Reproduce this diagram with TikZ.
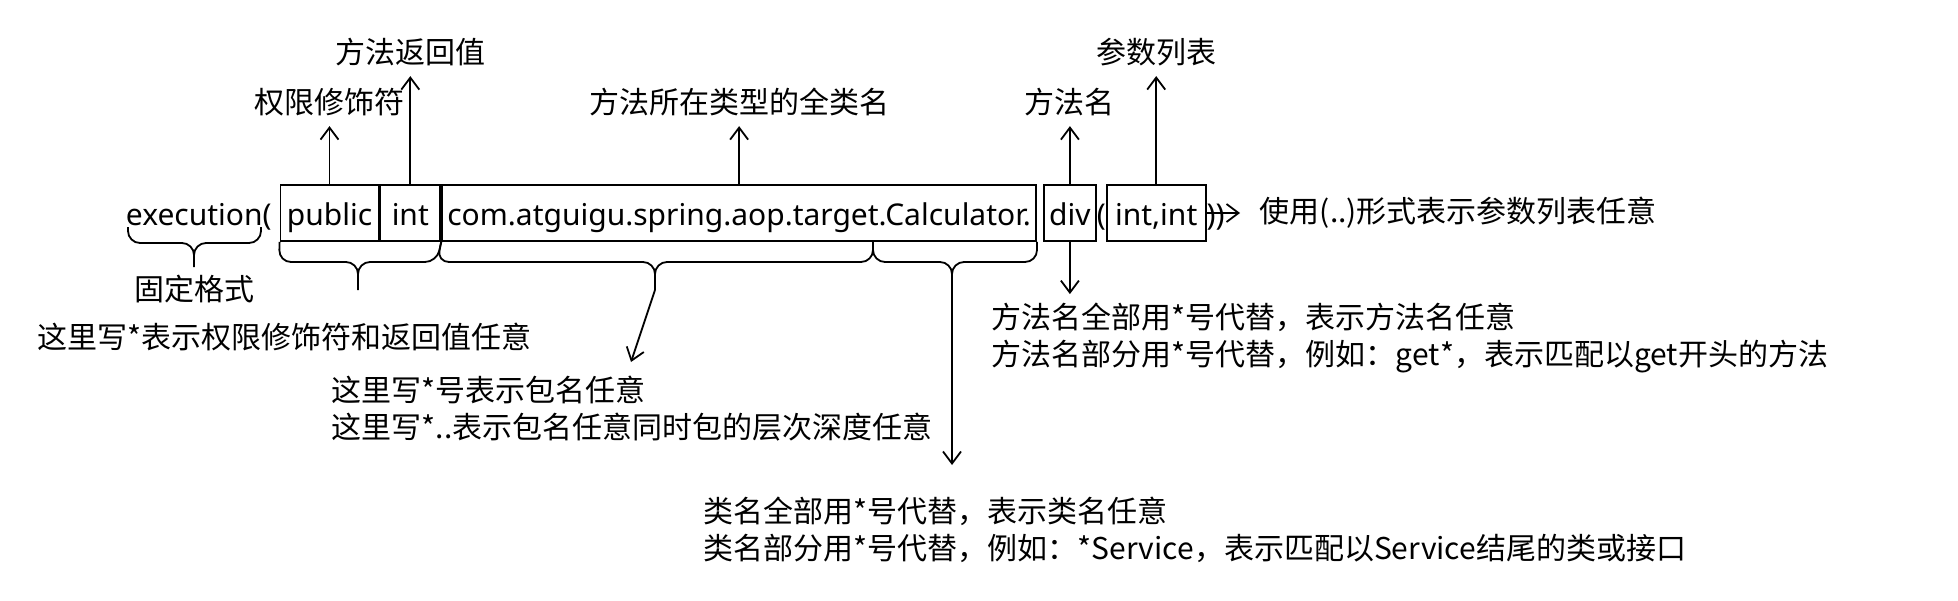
\documentclass[tikz,border=0pt]{standalone}
\usepackage{fontspec}
\setmainfont{Noto Sans}
\newfontfamily\cjk{Noto Sans CJK SC}
\usetikzlibrary{matrix, positioning, arrows.meta}

\begin{document}
\begin{tikzpicture}[x=0.5pt, y=-0.5pt, line width=0.9pt,
  >={Straight Barb[length=6pt,width=9pt]},
  every node/.style={font=\fontsize{15pt}{18.5pt}\selectfont},
  zh/.style={font=\cjk\fontsize{15pt}{18.5pt}\selectfont},
  seg/.style={draw, minimum height=28pt, inner xsep=0pt, inner ysep=0pt, text height=15pt, text depth=3pt},
  bare/.style={inner sep=0pt, text height=15pt, text depth=3pt},
  lbl/.style={zh, inner xsep=0pt, inner ysep=4.5pt},
  note/.style={zh, inner sep=0pt, align=left, anchor=west},
  curl/.style={rounded corners=6pt}]
\useasboundingbox (0,0) rectangle (1958,600);

\matrix (row) [column sep=0pt, inner sep=0pt, matrix anchor=west] at (125,213) {
\node[bare](exe){execution(}; &[4pt]
\node[seg, minimum width=49pt](pub){public}; &
\node[seg, minimum width=30pt](ret){int}; &
\node[seg, minimum width=297pt](cls){com.atguigu.spring.aop.target.Calculator.}; &[3pt]
\node[seg, minimum width=26pt](mth){div}; &[0pt]
\node[bare](lpar){(}; &[0pt]
\node[seg, minimum width=49.5pt](args){int,int}; &
\node[bare](rpar){))}; \\
};

% what each part means
\node[lbl, above=29pt of pub] (accl) {权限修饰符};
\node[lbl, above=54pt of ret] (retl) {方法返回值};
\node[lbl, above=29pt of cls] (clsl) {方法所在类型的全类名};
\node[lbl, above=29pt of mth] (mthl) {方法名};
\node[lbl, above=54pt of args] (argl) {参数列表};
\draw[->] (pub) -- (accl);
\draw[->] (ret) -- (retl);
\draw[->] (cls) -- (clsl);
\draw[->] (mth) -- (mthl);
\draw[->] (args) -- (argl);

% wildcard notes
\node[zh, inner sep=0pt] (fixn) at (194,289) {固定格式};
\node[note] (anyn) at (37,337) {这里写*表示权限修饰符和返回值任意};
\node[note] (pkgn) at (331,409) {这里写*号表示包名任意\\这里写*..表示包名任意同时包的层次深度任意};
\node[note] (clsn) at (703,530) {类名全部用*号代替，表示类名任意\\类名部分用*号代替，例如：*Service，表示匹配以Service结尾的类或接口};
\node[note] (mthn) at (991,338) {方法名全部用*号代替，表示方法名任意\\方法名部分用*号代替，例如：get*，表示匹配以get开头的方法};
\node[note] (argn) at (1259,213) {使用(..)形式表示参数列表任意};
\draw[->, shorten >=9.5pt] (args.east) -- (argn.west);
\draw[->, shorten >=4pt] (mth) -- (mth |- mthn.north);

% braces
\draw[curl] (128,227) -- (128,243) -- (194,243) -- (194,267) (261,227) -- (261,243) -- (194,243) -- (194,267);
\draw[curl] (pub.south west) -- (279,262) -- (358,262) -- (358,290) (ret.south east) -- (437,262) -- (358,262) -- (358,290);
\coordinate (cut) at (873,241);
\draw[curl] (cls.south west) -- (437,262) -- (655,262) -- (655,290) (cut) -- (873,262) -- (655,262) -- (655,290);
\draw[curl] (cut) -- (873,262) -- (952,262) -- (952,290) (cls.south east) -- (cls.south east |- 0,262) -- (952,262) -- (952,290);
\coordinate (pkgtip) at (655,290);
\coordinate (pkgend) at (631,362);
\draw[->] (pkgtip) -- (pkgend);
\coordinate (clstip) at (952,290);
\coordinate (clsend) at (952,465);
\draw[->] (clstip) -- (clsend);
\end{tikzpicture}
\end{document}
